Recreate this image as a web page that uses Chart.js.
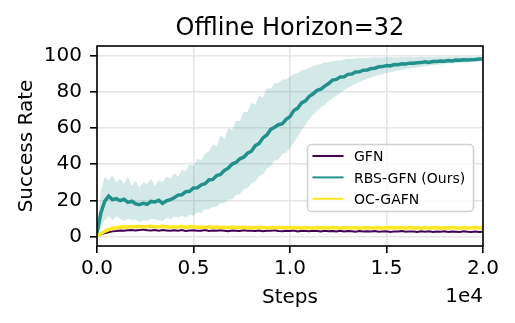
<!DOCTYPE html>
<html><head><meta charset="utf-8">
<script src="https://cdn.jsdelivr.net/npm/chart.js@4.4.0/dist/chart.umd.min.js"></script>
<style>html,body{margin:0;padding:0;background:#fff;}</style>
</head><body>
<canvas id="c" width="515" height="323"></canvas>
<script>
const chartTitle = 'Offline Horizon=32';
const xLabel = 'Steps';
const yLabel = 'Success Rate';
const xOffsetText = '1e4';
const seriesNames = ['GFN', 'RBS-GFN (Ours)', 'OC-GAFN'];
const seriesColors = ['#440154', '#21918c', '#fde725'];
const bandColor = 'rgba(33,145,140,0.2)';
const xTicks = [0, 5000, 10000, 15000, 20000];
const yTicks = [0, 20, 40, 60, 80, 100];

const steps = [0,200,400,600,800,1000,1200,1400,1600,1800,
2000,2200,2400,2600,2800,3000,3200,3400,3600,3800,
4000,4200,4400,4600,4800,5000,5200,5400,5600,5800,
6000,6200,6400,6600,6800,7000,7200,7400,7600,7800,
8000,8200,8400,8600,8800,9000,9200,9400,9600,9800,
10000,10200,10400,10600,10800,11000,11200,11400,11600,11800,
12000,12200,12400,12600,12800,13000,13200,13400,13600,13800,
14000,14200,14400,14600,14800,15000,15200,15400,15600,15800,
16000,16200,16400,16600,16800,17000,17200,17400,17600,17800,
18000,18200,18400,18600,18800,19000,19200,19400,19600,19800,
20000];

const gfn = [0.3,1.0,1.8,2.3,2.8,3.0,3.3,3.1,3.4,3.6,
3.3,3.5,3.8,3.4,3.3,3.6,3.2,3.5,3.3,3.1,
3.4,3.2,3.5,3.0,3.3,3.4,3.1,3.2,3.5,3.0,
3.3,3.1,3.4,3.2,2.9,3.3,3.2,3.0,3.4,3.1,
3.2,3.0,3.3,2.9,3.2,3.1,3.4,3.0,2.9,3.2,
3.0,3.3,2.8,3.1,3.0,2.9,3.2,3.0,2.7,3.1,
2.9,3.0,2.8,3.1,2.7,3.0,2.9,2.6,3.0,2.8,
2.9,2.7,3.0,2.6,2.8,2.9,2.5,2.8,2.7,3.0,
2.6,2.8,2.7,2.5,2.9,2.6,2.8,2.4,2.7,2.6,
2.8,2.5,2.7,2.6,2.4,2.8,2.6,2.5,2.7,2.4,
2.6];

const rbsMean = [2.0,13.0,19.5,22.3,20.4,20.9,19.8,20.6,18.9,19.5,
18.1,17.6,18.4,17.8,19.4,19.1,20.0,18.3,19.7,20.4,
21.4,22.9,23.1,24.8,25.0,26.9,27.0,28.6,29.2,31.3,
31.6,33.7,34.3,36.6,37.8,40.1,41.0,43.0,43.9,46.1,
47.2,50.3,51.5,54.6,56.2,59.3,60.5,61.9,62.4,64.9,
66.4,69.8,71.1,74.0,75.1,77.6,79.0,80.9,81.6,83.3,
84.7,86.6,87.0,88.3,88.5,89.8,90.0,91.1,91.2,92.1,
92.2,93.0,93.2,94.0,94.1,94.7,94.5,95.2,95.1,95.6,
95.5,96.0,95.9,96.2,96.3,96.7,96.4,96.9,96.9,97.2,
97.1,97.5,97.2,97.7,97.6,97.9,97.8,97.9,98.0,98.3,
98.3];

const rbsUpper = [4,25,33,31,34,30,32,29,33,28,
31,27,30,29,32,28,31,30,33,32,
35,33,37,36,40,39,43,42,46,47,
51,50,56,54,60,59,64,64,69,69,
74,73,78,77,82,82,85,85,87,87,
88.5,90,90.5,92,92.5,93.5,94.5,95,95.5,96.5,
96.5,97,97.5,97.5,98,98.5,98.3,98.7,98.8,99,
98.9,99.1,99.2,99,99.3,99.2,99.4,99.1,99.3,99.4,
99.2,99.5,99.3,99.4,99.6,99.3,99.5,99.4,99.6,99.5,
99.4,99.6,99.5,99.7,99.5,99.6,99.7,99.5,99.6,99.7,
99.6];

const rbsLower = [0,5,9,11,9,11,10,8.5,10,9,
9.5,8,9,8.5,10,9.5,9,8.5,10.5,9.5,
11,10.5,11.5,10.5,12,11.5,13.5,13,15,15,
16.5,16.5,18.5,18.5,20.5,20.5,23,23.5,26,27,
29.5,30.5,33.5,34.5,37.5,39,42,42.5,45.5,46.5,
49,52,55.5,59,62,65,67.5,69.5,71.5,73,
75,76.5,78,79.5,81,82.5,83.5,84.5,85.5,86.5,
87.5,88,88.8,89.4,90,90.5,91,91.4,91.9,92.3,
92.7,93,93.4,93.6,94,94.3,94.5,94.8,95,95.3,
95.5,95.7,95.8,96,96.2,96.3,96.5,96.6,96.8,96.9,
97];

const ocgafn = [0.0,1.5,2.8,3.8,4.4,4.8,5.1,5.3,5.2,5.5,
5.4,5.6,5.3,5.5,5.7,5.2,5.4,5.6,5.3,5.1,
5.4,5.2,5.5,5.0,5.3,5.4,5.1,5.2,5.0,5.3,
4.9,5.2,5.0,5.1,4.8,5.2,5.0,4.9,5.1,4.8,
5.0,4.8,5.1,4.9,4.7,5.0,4.8,5.1,4.9,4.7,
5.0,4.8,4.9,4.7,5.0,4.8,4.6,4.9,4.8,5.0,
4.7,4.9,4.8,4.6,5.0,4.8,4.7,4.9,4.6,4.8,
4.9,4.7,4.8,5.0,4.6,4.8,4.9,4.7,5.0,4.8,
4.6,4.9,4.7,4.8,4.6,5.0,4.7,4.8,4.9,4.6,
4.8,4.7,5.0,4.8,4.6,4.9,4.7,4.8,5.0,4.7,
4.9];

const FONT = '"DejaVu Sans", sans-serif';
const pts = arr => steps.map((s, i) => ({x: s, y: arr[i]}));

const decor = {
  id: 'decor',
  afterDatasetsDraw(chart) {
    const {ctx, chartArea: a} = chart;
    ctx.save();
    ctx.strokeStyle = '#000';
    ctx.lineWidth = 1.6;
    ctx.strokeRect(a.left, a.top, a.right - a.left, a.bottom - a.top);
    ctx.restore();
  },
  afterDraw(chart) {
    const {ctx, chartArea: a} = chart;
    ctx.save();
    ctx.fillStyle = '#000';
    ctx.font = '24px ' + FONT;
    ctx.textAlign = 'center';
    ctx.textBaseline = 'alphabetic';
    ctx.fillText(chartTitle, (a.left + a.right) / 2, a.top - 11.5);
    ctx.font = '20px ' + FONT;
    ctx.fillText(xLabel, (a.left + a.right) / 2, a.bottom + 57);
    ctx.textAlign = 'right';
    ctx.fillText(xOffsetText, a.right, a.bottom + 55.5);
    ctx.save();
    ctx.translate(31.5, (a.top + a.bottom) / 2);
    ctx.rotate(-Math.PI / 2);
    ctx.textAlign = 'center';
    ctx.fillText(yLabel, 0, 0);
    ctx.restore();
    const bx = a.right - 175.5, by = a.bottom - 101.5, bw = 166, bh = 67;
    ctx.beginPath();
    ctx.roundRect(bx, by, bw, bh, 4);
    ctx.fillStyle = 'rgba(255,255,255,0.8)';
    ctx.fill();
    ctx.strokeStyle = '#d0d0d0';
    ctx.lineWidth = 1.5;
    ctx.stroke();
    ctx.font = '14px ' + FONT;
    ctx.textAlign = 'left';
    for (let i = 0; i < seriesNames.length; i++) {
      const y = by + 11.5 + i * 21.4;
      ctx.strokeStyle = seriesColors[i];
      ctx.lineWidth = 2;
      ctx.beginPath();
      ctx.moveTo(bx + 5, y);
      ctx.lineTo(bx + 36, y);
      ctx.stroke();
      ctx.fillStyle = '#000';
      ctx.fillText(seriesNames[i], bx + 46.5, y + 5.2);
    }
    ctx.restore();
  }
};

new Chart(document.getElementById('c'), {
  type: 'line',
  data: {
    datasets: [
      {label: 'band-upper', data: pts(rbsUpper), borderWidth: 0, pointRadius: 0,
       backgroundColor: bandColor, fill: '+1', order: 10, tension: 0},
      {label: 'band-lower', data: pts(rbsLower), borderWidth: 0, pointRadius: 0,
       backgroundColor: bandColor, fill: false, order: 9, tension: 0},
      {label: seriesNames[0], data: pts(gfn), borderColor: seriesColors[0], borderWidth: 2,
       pointRadius: 0, fill: false, order: 3},
      {label: seriesNames[1], data: pts(rbsMean), borderColor: seriesColors[1], borderWidth: 3.5,
       pointRadius: 0, fill: false, order: 2},
      {label: seriesNames[2], data: pts(ocgafn), borderColor: seriesColors[2], borderWidth: 3.5,
       pointRadius: 0, fill: false, order: 1}
    ]
  },
  options: {
    responsive: false,
    animation: false,
    devicePixelRatio: 1,
    layout: {padding: {left: 0, right: 32, top: 46, bottom: 0}},
    plugins: {legend: {display: false}, title: {display: false}, tooltip: {enabled: false}},
    scales: {
      x: {
        type: 'linear', min: 0, max: 20000,
        afterBuildTicks: s => { s.ticks = xTicks.map(v => ({value: v})); },
        afterFit: s => { s.height = 77; },
        ticks: {font: {family: FONT, size: 20}, color: '#000', padding: 4, maxRotation: 0,
                callback: v => (v / 10000).toFixed(1)},
        grid: {color: '#e6e6e6', lineWidth: 1.6, tickColor: '#000', tickWidth: 1.6, tickLength: 7},
        border: {display: false}
      },
      y: {
        type: 'linear', min: -5.3, max: 105.5,
        afterBuildTicks: s => { s.ticks = yTicks.map(v => ({value: v})); },
        afterFit: s => { s.width = 97; },
        ticks: {font: {family: FONT, size: 20}, color: '#000', padding: 8,
                callback: v => String(v)},
        grid: {color: '#e6e6e6', lineWidth: 1.6, tickColor: '#000', tickWidth: 1.6, tickLength: 7},
        border: {display: false}
      }
    }
  },
  plugins: [decor]
});
</script>
</body></html>
